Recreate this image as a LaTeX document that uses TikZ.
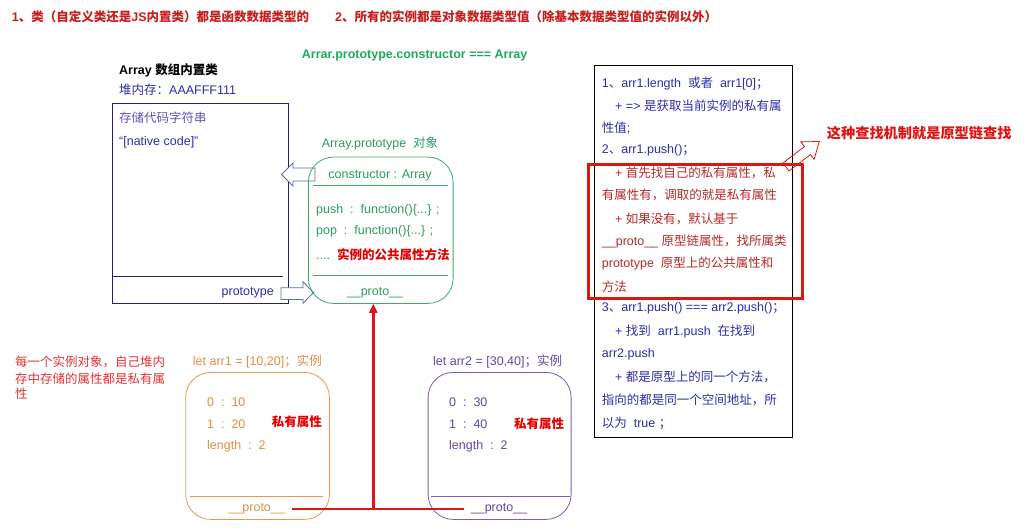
\documentclass[tikz,border=0pt]{standalone}
\usepackage{fontspec}
\setmainfont{Liberation Sans}
\newfontfamily\cjkfont{Noto Sans CJK SC}
\usetikzlibrary{arrows.meta}
\XeTeXinterchartokenstate=1
\newXeTeXintercharclass\cjkcls
\newcount\mycnt
\def\setcjkrange#1#2{\mycnt=#1 \loop\XeTeXcharclass\mycnt=\cjkcls\advance\mycnt by 1 \ifnum\mycnt<#2 \repeat}
\setcjkrange{"3000}{"3040}
\setcjkrange{"4E00}{"A000}
\setcjkrange{"FF00}{"FFF0}
\XeTeXinterchartoks 0 \cjkcls = {\begingroup\cjkfont}
\XeTeXinterchartoks 4095 \cjkcls = {\begingroup\cjkfont}
\XeTeXinterchartoks \cjkcls 0 = {\endgroup}
\XeTeXinterchartoks \cjkcls 4095 = {\endgroup}
\definecolor{ctitle}{RGB}{200,30,30}
\definecolor{cgreen}{RGB}{30,170,90}
\definecolor{cgtext}{RGB}{45,155,95}
\definecolor{cgbox}{RGB}{60,170,110}
\definecolor{cnavy}{RGB}{35,30,130}
\definecolor{cblue}{RGB}{45,45,170}
\definecolor{cpblue}{RGB}{95,85,180}
\definecolor{carrow}{RGB}{90,110,150}
\definecolor{cred}{RGB}{230,0,0}
\definecolor{cline}{RGB}{225,20,20}
\definecolor{crtext}{RGB}{185,40,40}
\definecolor{cltext}{RGB}{230,50,50}
\definecolor{corange}{RGB}{235,150,80}
\definecolor{cotext}{RGB}{225,140,70}
\definecolor{cpurple}{RGB}{130,90,180}
\definecolor{cptext}{RGB}{100,70,160}
\begin{document}
\begin{tikzpicture}[x=1pt,y=-1pt,
  every node/.style={inner sep=0pt, font=\fontsize{12.5}{15}\selectfont},
  lt/.style={anchor=west},
  bf/.style={font=\fontsize{12.5}{15}\selectfont\bfseries},
  bt/.style={anchor=west, text=cblue},
  rt/.style={anchor=west, text=crtext},
  boxr/.style={rounded corners=25pt, line width=0.8pt, anchor=north west}]
\useasboundingbox (0,0) rectangle (1028,532);

% titles
\node[lt, bf, text=ctitle] (t1) at (11.7,16.7) {1、类（自定义类还是JS内置类）都是函数数据类型的};
\node[lt, bf, text=ctitle] (t2) at (335,16.7) {2、所有的实例都是对象数据类型值（除基本数据类型值的实例以外）};
\node[lt, bf, text=cgreen] (t3) at (301.7,55) {Arrar.prototype.constructor === Array};

% Array box
\node[lt, bf] (atitle) at (119,70) {Array 数组内置类};
\node[lt, text=cblue] (aheap) at (119,90) {堆内存：AAAFFF111};
\node[draw=cnavy, line width=1pt, minimum width=175.4pt, minimum height=200.6pt, anchor=north west] (abox) at (112.3,102.7) {};
\draw[cnavy, line width=0.8pt] (abox.west |- 0,276) -- (283,276);
\node[lt, text=cpblue] (astore) at (119,118) {存储代码字符串};
\node[lt, text=cblue] (anative) at (119,142.7) {“[native code]”};
\node[anchor=east, text=cblue] (aproto) at (274,292.7) {prototype};

% hollow arrows
\draw[carrow, fill=white, line width=0.8pt] (281.5,174.5) -- (293,163) -- (293,168) -- (315,168) -- (315,181) -- (293,181) -- (293,186) -- cycle;
\draw[carrow, fill=white, line width=0.8pt] (281,287.7) -- (303,287.7) -- (303,281.7) -- (313.5,292.5) -- (303,303.3) -- (303,299.5) -- (281,299.5) -- cycle;

% Array.prototype box
\node[text=cgtext] (gtitle) at (380,144) {Array.prototype\ \ 对象};
\node[draw=cgbox, boxr, minimum width=144.7pt, minimum height=146.3pt] (gbox) at (308,156.7) {};
\draw[cgbox, line width=0.8pt] (313,185) -- (448,185);
\draw[cgbox, line width=0.8pt] (313,275.7) -- (448,275.7);
\node[text=cgtext] (gcons) at (380,175.7) {constructor : Array};
\node[lt, text=cgtext] (gpush) at (316,210) {push\ \ :\ \ function()\{...\} ;};
\node[lt, text=cgtext] (gpop) at (316,231.7) {pop\ \ :\ \ function()\{...\} ;};
\node[lt, text=cgtext] (gdots) at (316,255) {....\ \ {\color{cred}\bfseries 实例的公共属性方法}};
\node[text=cgtext] (gproto) at (375,293) {\_\_proto\_\_};

% left note
\node[lt, text=cltext] (l1) at (15,361.7) {每一个实例对象，自己堆内};
\node[lt, text=cltext] (l2) at (15,378.3) {存中存储的属性都是私有属};
\node[lt, text=cltext] (l3) at (15,394) {性};

% arr1
\node[lt, text=cotext] (b1t) at (192.7,361.7) {let arr1 = [10,20]；实例};
\node[draw=corange, boxr, minimum width=143.7pt, minimum height=147pt] (b1) at (185.3,372) {};
\draw[corange, line width=0.8pt] (190,496.7) -- (322.7,496.7);
\node[lt, text=cotext] (b1a) at (207,401.7) {0\ \ :\ \ 10};
\node[lt, text=cotext] (b1b) at (207,424) {1\ \ :\ \ 20};
\node[lt, text=cotext] (b1c) at (207,446.7) {length\ \ :\ \ 2};
\node[lt, bf, text=cred] (b1p) at (271.7,421.7) {私有属性};
\node[text=cotext] (a1proto) at (256.7,509) {\_\_proto\_\_};

% arr2
\node[lt, text=cptext] (b2t) at (433,361.7) {let arr2 = [30,40]；实例};
\node[draw=cpurple, boxr, minimum width=143pt, minimum height=147pt] (b2) at (427.7,372) {};
\draw[cpurple, line width=0.8pt] (431,496.7) -- (570,496.7);
\node[lt, text=cptext] (b2a) at (449,401.7) {0\ \ :\ \ 30};
\node[lt, text=cptext] (b2b) at (449,424) {1\ \ :\ \ 40};
\node[lt, text=cptext] (b2c) at (449,446.7) {length\ \ :\ \ 2};
\node[lt, bf, text=cred] (b2p) at (514,424) {私有属性};
\node[text=cptext] (a2proto) at (499,509) {\_\_proto\_\_};

% red connector
\coordinate (jn) at (373.3,509);
\draw[cline, line width=2.5pt] ([xshift=7pt]a1proto.east) -- ([xshift=-7pt]a2proto.west);
\draw[cline, line width=2.5pt, -{Triangle[length=9pt,width=8pt]}] (jn) -- (jn |- gbox.south);

% right box
\node[draw=black, line width=1pt, minimum width=198pt, minimum height=371.7pt, anchor=north west] (rbox) at (594.3,65) {};
\node[bt] (r1) at (601.7,83.3) {1、arr1.length\ \ 或者\ \ arr1[0]；};
\node[bt] (r2) at (615,105.7) {+ => 是获取当前实例的私有属};
\node[bt] (r3) at (601.7,128.3) {性值;};
\node[bt] (r4) at (601.7,150.7) {2、arr1.push()；};
\node[rt] (r5) at (615,173.3) {+ 首先找自己的私有属性，私};
\node[rt] (r6) at (601.7,195) {有属性有，调取的就是私有属性};
\node[rt] (r7) at (615,219) {+ 如果没有，默认基于};
\node[rt] (r8) at (601.7,241.7) {\_\_proto\_\_ 原型链属性，找所属类};
\node[rt] (r9) at (601.7,263.3) {prototype\ \ 原型上的公共属性和};
\node[rt] (r10) at (601.7,286.7) {方法};
\node[bt] (r11) at (601.7,308.3) {3、arr1.push() === arr2.push()；};
\node[bt] (r12) at (615,331.7) {+ 找到\ \ arr1.push\ \ 在找到};
\node[bt] (r13) at (601.7,354) {arr2.push};
\node[bt] (r14) at (615,377.3) {+ 都是原型上的同一个方法，};
\node[bt] (r15) at (601.7,400) {指向的都是同一个空间地址，所};
\node[bt] (r16) at (601.7,423.3) {以为\ \ true ；};

\node[draw=cline, line width=2.5pt, minimum width=213.7pt, minimum height=134pt, anchor=north west] (rrect) at (587.3,163.3) {};
\draw[cline, line width=0.8pt] (783.0,163.0) -- (804.4,146.6) -- (800.7,141.9) -- (819.3,141.5) -- (814.1,159.3) -- (810.4,154.6) -- (789.0,171.0) -- cycle;
\node[lt, text=cline, font=\fontsize{14.2}{16}\selectfont\bfseries] (rnote) at (826.7,132.7) {这种查找机制就是原型链查找};
\end{tikzpicture}
\end{document}
